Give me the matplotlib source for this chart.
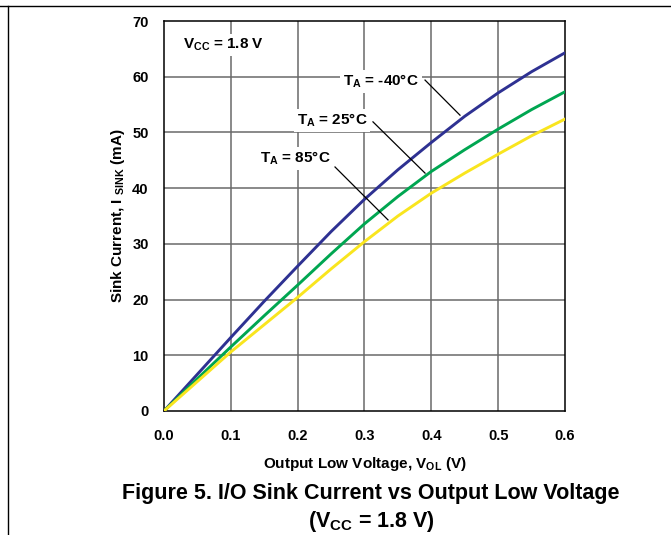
import matplotlib
matplotlib.use("Agg")
import matplotlib.pyplot as plt
from matplotlib.lines import Line2D

# ---------------- DATA ----------------
vol = [0.0, 0.05, 0.10, 0.15, 0.20, 0.25, 0.30, 0.35, 0.40, 0.45, 0.50, 0.55, 0.60]
sink_m40 = [0.0, 6.6, 13.2, 19.7, 26.0, 32.2, 38.0, 43.3, 48.2, 52.9, 57.1, 60.9, 64.3]
sink_25 = [0.0, 5.8, 11.5, 17.1, 22.6, 28.2, 33.6, 38.5, 43.0, 46.9, 50.6, 54.1, 57.3]
sink_85 = [0.0, 5.3, 10.6, 15.5, 20.4, 25.5, 30.4, 35.0, 39.1, 42.7, 46.1, 49.4, 52.4]

x_ticks = [0.0, 0.1, 0.2, 0.3, 0.4, 0.5, 0.6]
x_tick_labels = ["0.0", "0.1", "0.2", "0.3", "0.4", "0.5", "0.6"]
y_ticks = [0, 10, 20, 30, 40, 50, 60, 70]

# ---------------- STYLE ----------------
plt.rcParams["font.family"] = ["Liberation Sans", "DejaVu Sans"]
plt.rcParams["font.weight"] = "bold"
plt.rcParams["mathtext.fontset"] = "custom"
plt.rcParams["mathtext.rm"] = "Liberation Sans:bold"
plt.rcParams["mathtext.it"] = "Liberation Sans:bold"
plt.rcParams["mathtext.bf"] = "Liberation Sans:bold"
plt.rcParams["mathtext.default"] = "rm"

fig = plt.figure(figsize=(6.71, 5.35), dpi=100)
ax = fig.add_axes([0.2444, 0.2318, 0.5976, 0.7289])

grid_col = "#6a6a6a"
for xv in x_ticks[1:-1]:
    ax.axvline(xv, color=grid_col, lw=1.1, zorder=1)
for yv in y_ticks[1:-1]:
    ax.axhline(yv, color=grid_col, lw=1.1, zorder=1)

ax.plot(vol, sink_m40, color="#2e3192", lw=2.1, zorder=4)
ax.plot(vol, sink_25, color="#00a651", lw=2.1, zorder=4)
ax.plot(vol, sink_85, color="#f9e51e", lw=2.1, zorder=4)

ax.set_xlim(0, 0.6)
ax.set_ylim(0, 70)
ax.set_xticks(x_ticks)
ax.set_xticklabels(x_tick_labels)
ax.set_yticks(y_ticks)
ax.tick_params(axis="x", length=0, labelsize=10.5, pad=13)
ax.tick_params(axis="y", length=0, labelsize=10.5, pad=11)
for lab in ax.get_xticklabels() + ax.get_yticklabels():
    lab.set_fontweight("bold")
for sp in ax.spines.values():
    sp.set_linewidth(1.1)

ax.set_xlabel("Output Low Voltage, V$_{OL}$ (V)", fontsize=11, fontweight="bold", labelpad=8.5)
ax.set_ylabel("Sink Current, I $_{SINK}$ (mA)", fontsize=11, fontweight="bold", labelpad=3.5)

# ---------------- ANNOTATIONS ----------------
box = dict(facecolor="white", edgecolor="none", pad=2)
ax.text(0.028, 65.7, "V$_{CC}$ = 1.8 V", fontsize=11, fontweight="bold",
        ha="left", va="center", bbox=box, zorder=5)
ax.text(0.3247, 59.1, "T$_{A}$ = -40°C", fontsize=11, fontweight="bold",
        ha="center", va="center", bbox=box, zorder=5)
ax.text(0.2514, 52.2, "T$_{A}$ = 25°C", fontsize=11, fontweight="bold",
        ha="center", va="center", bbox=box, zorder=5)
ax.text(0.196, 45.4, "T$_{A}$ = 85°C", fontsize=11, fontweight="bold",
        ha="center", va="center", bbox=box, zorder=5)

ax.plot([0.3906, 0.4429], [59.4, 53.1], color="black", lw=0.9, zorder=5)
ax.plot([0.3127, 0.3906], [51.9, 42.7], color="black", lw=0.9, zorder=5)
ax.plot([0.2559, 0.3352], [43.8, 34.3], color="black", lw=0.9, zorder=5)

# ---------------- CAPTION ----------------
fig.text(0.553, 1 - 493 / 535, "Figure 5. I/O Sink Current vs Output Low Voltage",
         fontsize=15.5, fontweight="bold", ha="center", va="center")
fig.text(0.553, 1 - 522 / 535, "(V$_{CC}$ = 1.8 V)",
         fontsize=15.5, fontweight="bold", ha="center", va="center")

# ---------------- PAGE FRAME ----------------
fig.add_artist(Line2D([0, 1], [1 - 6 / 535, 1 - 6 / 535], color="black", lw=1.0))
fig.add_artist(Line2D([7.5 / 671, 7.5 / 671], [0, 1 - 6 / 535], color="black", lw=1.0))

fig.savefig("out.png", dpi=100)
plt.close(fig)
